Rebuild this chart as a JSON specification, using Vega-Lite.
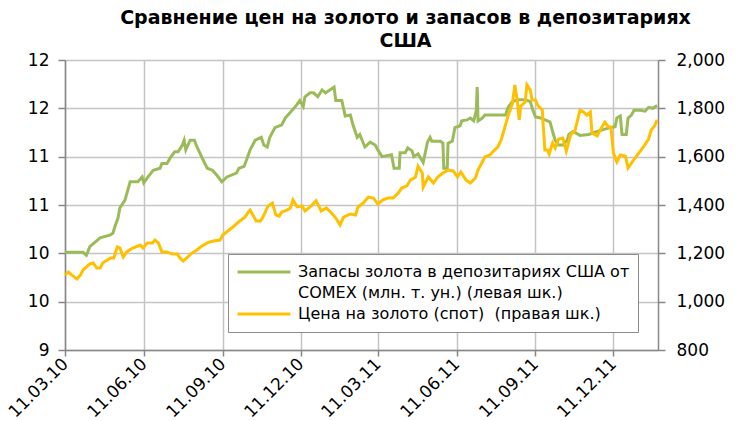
{
  "$schema": "https://vega.github.io/schema/vega-lite/v6.json",
  "width": 593,
  "height": 290,
  "autosize": {"type": "none"},
  "padding": {"left": 65, "top": 60, "right": 87, "bottom": 71},
  "background": "white",
  "title": {
    "text": ["Сравнение цен на золото и запасов в депозитариях", "США"],
    "font": "DejaVu Sans",
    "fontSize": 19,
    "fontWeight": "bold",
    "color": "#000000",
    "anchor": "middle",
    "dx": 44,
    "offset": 0,
    "lineHeight": 23
  },
  "config": {
    "view": {"stroke": null},
    "axis": {
      "labelFont": "DejaVu Sans",
      "labelColor": "#000000",
      "domainColor": "#868686",
      "tickColor": "#868686",
      "gridColor": "#c4c4c4",
      "domainWidth": 1.5,
      "tickWidth": 1.5,
      "gridWidth": 1.5
    }
  },
  "data": {
    "values": [
      {"date": "2010-03-11", "series": "reserves", "value": 10.01},
      {"date": "2010-04-01", "series": "reserves", "value": 10.01},
      {"date": "2010-04-05", "series": "reserves", "value": 9.98},
      {"date": "2010-04-09", "series": "reserves", "value": 10.07},
      {"date": "2010-04-21", "series": "reserves", "value": 10.16},
      {"date": "2010-05-03", "series": "reserves", "value": 10.19},
      {"date": "2010-05-06", "series": "reserves", "value": 10.21},
      {"date": "2010-05-08", "series": "reserves", "value": 10.27},
      {"date": "2010-05-12", "series": "reserves", "value": 10.37},
      {"date": "2010-05-14", "series": "reserves", "value": 10.47},
      {"date": "2010-05-20", "series": "reserves", "value": 10.55},
      {"date": "2010-05-26", "series": "reserves", "value": 10.74},
      {"date": "2010-06-04", "series": "reserves", "value": 10.74},
      {"date": "2010-06-09", "series": "reserves", "value": 10.79},
      {"date": "2010-06-11", "series": "reserves", "value": 10.73},
      {"date": "2010-06-15", "series": "reserves", "value": 10.78},
      {"date": "2010-06-22", "series": "reserves", "value": 10.86},
      {"date": "2010-06-30", "series": "reserves", "value": 10.88},
      {"date": "2010-07-02", "series": "reserves", "value": 10.93},
      {"date": "2010-07-08", "series": "reserves", "value": 10.93},
      {"date": "2010-07-12", "series": "reserves", "value": 10.99},
      {"date": "2010-07-17", "series": "reserves", "value": 11.05},
      {"date": "2010-07-21", "series": "reserves", "value": 11.05},
      {"date": "2010-07-26", "series": "reserves", "value": 11.12},
      {"date": "2010-07-28", "series": "reserves", "value": 11.17},
      {"date": "2010-07-30", "series": "reserves", "value": 11.07},
      {"date": "2010-08-04", "series": "reserves", "value": 11.17},
      {"date": "2010-08-09", "series": "reserves", "value": 11.17},
      {"date": "2010-08-12", "series": "reserves", "value": 11.10},
      {"date": "2010-08-19", "series": "reserves", "value": 10.97},
      {"date": "2010-08-24", "series": "reserves", "value": 10.88},
      {"date": "2010-08-30", "series": "reserves", "value": 10.86},
      {"date": "2010-09-04", "series": "reserves", "value": 10.81},
      {"date": "2010-09-10", "series": "reserves", "value": 10.74},
      {"date": "2010-09-16", "series": "reserves", "value": 10.79},
      {"date": "2010-09-27", "series": "reserves", "value": 10.83},
      {"date": "2010-09-30", "series": "reserves", "value": 10.88},
      {"date": "2010-10-06", "series": "reserves", "value": 10.90},
      {"date": "2010-10-09", "series": "reserves", "value": 10.97},
      {"date": "2010-10-13", "series": "reserves", "value": 11.07},
      {"date": "2010-10-19", "series": "reserves", "value": 11.17},
      {"date": "2010-10-26", "series": "reserves", "value": 11.20},
      {"date": "2010-10-29", "series": "reserves", "value": 11.12},
      {"date": "2010-11-02", "series": "reserves", "value": 11.10},
      {"date": "2010-11-05", "series": "reserves", "value": 11.20},
      {"date": "2010-11-11", "series": "reserves", "value": 11.30},
      {"date": "2010-11-19", "series": "reserves", "value": 11.33},
      {"date": "2010-11-23", "series": "reserves", "value": 11.40},
      {"date": "2010-11-29", "series": "reserves", "value": 11.46},
      {"date": "2010-12-06", "series": "reserves", "value": 11.53},
      {"date": "2010-12-10", "series": "reserves", "value": 11.58},
      {"date": "2010-12-14", "series": "reserves", "value": 11.52},
      {"date": "2010-12-16", "series": "reserves", "value": 11.62},
      {"date": "2010-12-22", "series": "reserves", "value": 11.66},
      {"date": "2010-12-26", "series": "reserves", "value": 11.66},
      {"date": "2010-12-31", "series": "reserves", "value": 11.62},
      {"date": "2011-01-05", "series": "reserves", "value": 11.69},
      {"date": "2011-01-09", "series": "reserves", "value": 11.66},
      {"date": "2011-01-14", "series": "reserves", "value": 11.69},
      {"date": "2011-01-19", "series": "reserves", "value": 11.72},
      {"date": "2011-01-21", "series": "reserves", "value": 11.58},
      {"date": "2011-01-28", "series": "reserves", "value": 11.58},
      {"date": "2011-02-01", "series": "reserves", "value": 11.42},
      {"date": "2011-02-07", "series": "reserves", "value": 11.43},
      {"date": "2011-02-10", "series": "reserves", "value": 11.33},
      {"date": "2011-02-15", "series": "reserves", "value": 11.20},
      {"date": "2011-02-18", "series": "reserves", "value": 11.23},
      {"date": "2011-02-24", "series": "reserves", "value": 11.10},
      {"date": "2011-03-02", "series": "reserves", "value": 11.15},
      {"date": "2011-03-08", "series": "reserves", "value": 11.12},
      {"date": "2011-03-11", "series": "reserves", "value": 11.07},
      {"date": "2011-03-16", "series": "reserves", "value": 11.00},
      {"date": "2011-03-27", "series": "reserves", "value": 11.02},
      {"date": "2011-03-30", "series": "reserves", "value": 10.88},
      {"date": "2011-04-05", "series": "reserves", "value": 10.88},
      {"date": "2011-04-06", "series": "reserves", "value": 11.04},
      {"date": "2011-04-12", "series": "reserves", "value": 11.04},
      {"date": "2011-04-15", "series": "reserves", "value": 11.09},
      {"date": "2011-04-20", "series": "reserves", "value": 11.06},
      {"date": "2011-04-22", "series": "reserves", "value": 11.00},
      {"date": "2011-04-27", "series": "reserves", "value": 11.03},
      {"date": "2011-05-03", "series": "reserves", "value": 10.94},
      {"date": "2011-05-08", "series": "reserves", "value": 11.15},
      {"date": "2011-05-11", "series": "reserves", "value": 11.20},
      {"date": "2011-05-13", "series": "reserves", "value": 11.16},
      {"date": "2011-05-23", "series": "reserves", "value": 11.16},
      {"date": "2011-05-26", "series": "reserves", "value": 11.14},
      {"date": "2011-05-27", "series": "reserves", "value": 10.88},
      {"date": "2011-05-31", "series": "reserves", "value": 10.88},
      {"date": "2011-06-01", "series": "reserves", "value": 11.14},
      {"date": "2011-06-06", "series": "reserves", "value": 11.16},
      {"date": "2011-06-09", "series": "reserves", "value": 11.30},
      {"date": "2011-06-15", "series": "reserves", "value": 11.32},
      {"date": "2011-06-17", "series": "reserves", "value": 11.37},
      {"date": "2011-06-23", "series": "reserves", "value": 11.38},
      {"date": "2011-06-27", "series": "reserves", "value": 11.40},
      {"date": "2011-07-01", "series": "reserves", "value": 11.37},
      {"date": "2011-07-04", "series": "reserves", "value": 11.48},
      {"date": "2011-07-05", "series": "reserves", "value": 11.72},
      {"date": "2011-07-06", "series": "reserves", "value": 11.37},
      {"date": "2011-07-11", "series": "reserves", "value": 11.40},
      {"date": "2011-07-14", "series": "reserves", "value": 11.43},
      {"date": "2011-08-07", "series": "reserves", "value": 11.43},
      {"date": "2011-08-10", "series": "reserves", "value": 11.51},
      {"date": "2011-08-15", "series": "reserves", "value": 11.57},
      {"date": "2011-08-22", "series": "reserves", "value": 11.59},
      {"date": "2011-08-30", "series": "reserves", "value": 11.59},
      {"date": "2011-09-05", "series": "reserves", "value": 11.57},
      {"date": "2011-09-08", "series": "reserves", "value": 11.48},
      {"date": "2011-09-11", "series": "reserves", "value": 11.41},
      {"date": "2011-09-17", "series": "reserves", "value": 11.40},
      {"date": "2011-09-22", "series": "reserves", "value": 11.38},
      {"date": "2011-09-28", "series": "reserves", "value": 11.36},
      {"date": "2011-10-01", "series": "reserves", "value": 11.26},
      {"date": "2011-10-04", "series": "reserves", "value": 11.17},
      {"date": "2011-10-08", "series": "reserves", "value": 11.12},
      {"date": "2011-10-13", "series": "reserves", "value": 11.12},
      {"date": "2011-10-18", "series": "reserves", "value": 11.17},
      {"date": "2011-10-20", "series": "reserves", "value": 11.23},
      {"date": "2011-10-25", "series": "reserves", "value": 11.26},
      {"date": "2011-11-02", "series": "reserves", "value": 11.22},
      {"date": "2011-11-12", "series": "reserves", "value": 11.23},
      {"date": "2011-11-22", "series": "reserves", "value": 11.26},
      {"date": "2011-11-29", "series": "reserves", "value": 11.28},
      {"date": "2011-12-07", "series": "reserves", "value": 11.30},
      {"date": "2011-12-13", "series": "reserves", "value": 11.31},
      {"date": "2011-12-15", "series": "reserves", "value": 11.40},
      {"date": "2011-12-19", "series": "reserves", "value": 11.42},
      {"date": "2011-12-21", "series": "reserves", "value": 11.23},
      {"date": "2011-12-26", "series": "reserves", "value": 11.23},
      {"date": "2011-12-28", "series": "reserves", "value": 11.40},
      {"date": "2012-01-01", "series": "reserves", "value": 11.43},
      {"date": "2012-01-04", "series": "reserves", "value": 11.48},
      {"date": "2012-01-11", "series": "reserves", "value": 11.48},
      {"date": "2012-01-17", "series": "reserves", "value": 11.47},
      {"date": "2012-01-21", "series": "reserves", "value": 11.51},
      {"date": "2012-01-26", "series": "reserves", "value": 11.50},
      {"date": "2012-01-31", "series": "reserves", "value": 11.53},

      {"date": "2010-03-11", "series": "price", "value": 1110},
      {"date": "2010-03-15", "series": "price", "value": 1123},
      {"date": "2010-03-19", "series": "price", "value": 1110},
      {"date": "2010-03-25", "series": "price", "value": 1094},
      {"date": "2010-03-29", "series": "price", "value": 1110},
      {"date": "2010-04-01", "series": "price", "value": 1131},
      {"date": "2010-04-09", "series": "price", "value": 1156},
      {"date": "2010-04-13", "series": "price", "value": 1160},
      {"date": "2010-04-17", "series": "price", "value": 1139},
      {"date": "2010-04-21", "series": "price", "value": 1139},
      {"date": "2010-04-24", "series": "price", "value": 1160},
      {"date": "2010-05-03", "series": "price", "value": 1181},
      {"date": "2010-05-07", "series": "price", "value": 1181},
      {"date": "2010-05-11", "series": "price", "value": 1226},
      {"date": "2010-05-14", "series": "price", "value": 1222},
      {"date": "2010-05-18", "series": "price", "value": 1185},
      {"date": "2010-05-22", "series": "price", "value": 1206},
      {"date": "2010-05-29", "series": "price", "value": 1222},
      {"date": "2010-06-07", "series": "price", "value": 1234},
      {"date": "2010-06-10", "series": "price", "value": 1222},
      {"date": "2010-06-15", "series": "price", "value": 1243},
      {"date": "2010-06-21", "series": "price", "value": 1243},
      {"date": "2010-06-24", "series": "price", "value": 1255},
      {"date": "2010-06-28", "series": "price", "value": 1243},
      {"date": "2010-07-02", "series": "price", "value": 1206},
      {"date": "2010-07-08", "series": "price", "value": 1206},
      {"date": "2010-07-14", "series": "price", "value": 1197},
      {"date": "2010-07-20", "series": "price", "value": 1197},
      {"date": "2010-07-23", "series": "price", "value": 1181},
      {"date": "2010-07-27", "series": "price", "value": 1168},
      {"date": "2010-07-31", "series": "price", "value": 1181},
      {"date": "2010-08-06", "series": "price", "value": 1201},
      {"date": "2010-08-12", "series": "price", "value": 1214},
      {"date": "2010-08-16", "series": "price", "value": 1226},
      {"date": "2010-08-24", "series": "price", "value": 1243},
      {"date": "2010-08-31", "series": "price", "value": 1251},
      {"date": "2010-09-08", "series": "price", "value": 1255},
      {"date": "2010-09-11", "series": "price", "value": 1276},
      {"date": "2010-09-23", "series": "price", "value": 1309},
      {"date": "2010-10-01", "series": "price", "value": 1334},
      {"date": "2010-10-07", "series": "price", "value": 1350},
      {"date": "2010-10-11", "series": "price", "value": 1371},
      {"date": "2010-10-13", "series": "price", "value": 1379},
      {"date": "2010-10-17", "series": "price", "value": 1354},
      {"date": "2010-10-20", "series": "price", "value": 1334},
      {"date": "2010-10-25", "series": "price", "value": 1334},
      {"date": "2010-10-28", "series": "price", "value": 1350},
      {"date": "2010-11-03", "series": "price", "value": 1396},
      {"date": "2010-11-08", "series": "price", "value": 1408},
      {"date": "2010-11-12", "series": "price", "value": 1359},
      {"date": "2010-11-16", "series": "price", "value": 1354},
      {"date": "2010-11-19", "series": "price", "value": 1371},
      {"date": "2010-11-25", "series": "price", "value": 1379},
      {"date": "2010-11-29", "series": "price", "value": 1388},
      {"date": "2010-12-02", "series": "price", "value": 1421},
      {"date": "2010-12-07", "series": "price", "value": 1392},
      {"date": "2010-12-13", "series": "price", "value": 1396},
      {"date": "2010-12-16", "series": "price", "value": 1375},
      {"date": "2010-12-22", "series": "price", "value": 1392},
      {"date": "2010-12-29", "series": "price", "value": 1417},
      {"date": "2011-01-04", "series": "price", "value": 1375},
      {"date": "2011-01-10", "series": "price", "value": 1388},
      {"date": "2011-01-16", "series": "price", "value": 1367},
      {"date": "2011-01-21", "series": "price", "value": 1346},
      {"date": "2011-01-26", "series": "price", "value": 1317},
      {"date": "2011-01-30", "series": "price", "value": 1350},
      {"date": "2011-02-07", "series": "price", "value": 1363},
      {"date": "2011-02-13", "series": "price", "value": 1359},
      {"date": "2011-02-16", "series": "price", "value": 1392},
      {"date": "2011-02-22", "series": "price", "value": 1408},
      {"date": "2011-02-28", "series": "price", "value": 1433},
      {"date": "2011-03-06", "series": "price", "value": 1429},
      {"date": "2011-03-11", "series": "price", "value": 1404},
      {"date": "2011-03-17", "series": "price", "value": 1421},
      {"date": "2011-03-23", "series": "price", "value": 1429},
      {"date": "2011-03-29", "series": "price", "value": 1429},
      {"date": "2011-04-04", "series": "price", "value": 1450},
      {"date": "2011-04-08", "series": "price", "value": 1470},
      {"date": "2011-04-14", "series": "price", "value": 1479},
      {"date": "2011-04-18", "series": "price", "value": 1503},
      {"date": "2011-04-24", "series": "price", "value": 1516},
      {"date": "2011-04-27", "series": "price", "value": 1561},
      {"date": "2011-05-02", "series": "price", "value": 1532},
      {"date": "2011-05-03", "series": "price", "value": 1474},
      {"date": "2011-05-09", "series": "price", "value": 1516},
      {"date": "2011-05-15", "series": "price", "value": 1491},
      {"date": "2011-05-20", "series": "price", "value": 1516},
      {"date": "2011-05-26", "series": "price", "value": 1532},
      {"date": "2011-06-01", "series": "price", "value": 1545},
      {"date": "2011-06-07", "series": "price", "value": 1541},
      {"date": "2011-06-12", "series": "price", "value": 1516},
      {"date": "2011-06-16", "series": "price", "value": 1537},
      {"date": "2011-06-22", "series": "price", "value": 1503},
      {"date": "2011-06-27", "series": "price", "value": 1491},
      {"date": "2011-07-03", "series": "price", "value": 1512},
      {"date": "2011-07-06", "series": "price", "value": 1545},
      {"date": "2011-07-11", "series": "price", "value": 1578},
      {"date": "2011-07-14", "series": "price", "value": 1599},
      {"date": "2011-07-20", "series": "price", "value": 1607},
      {"date": "2011-07-24", "series": "price", "value": 1623},
      {"date": "2011-07-29", "series": "price", "value": 1640},
      {"date": "2011-08-02", "series": "price", "value": 1669},
      {"date": "2011-08-07", "series": "price", "value": 1731},
      {"date": "2011-08-10", "series": "price", "value": 1768},
      {"date": "2011-08-15", "series": "price", "value": 1818},
      {"date": "2011-08-18", "series": "price", "value": 1897},
      {"date": "2011-08-21", "series": "price", "value": 1826},
      {"date": "2011-08-23", "series": "price", "value": 1752},
      {"date": "2011-08-25", "series": "price", "value": 1810},
      {"date": "2011-08-30", "series": "price", "value": 1826},
      {"date": "2011-09-01", "series": "price", "value": 1897},
      {"date": "2011-09-05", "series": "price", "value": 1876},
      {"date": "2011-09-07", "series": "price", "value": 1834},
      {"date": "2011-09-11", "series": "price", "value": 1834},
      {"date": "2011-09-14", "series": "price", "value": 1810},
      {"date": "2011-09-19", "series": "price", "value": 1793},
      {"date": "2011-09-20", "series": "price", "value": 1731},
      {"date": "2011-09-22", "series": "price", "value": 1628},
      {"date": "2011-09-25", "series": "price", "value": 1628},
      {"date": "2011-09-27", "series": "price", "value": 1611},
      {"date": "2011-10-01", "series": "price", "value": 1657},
      {"date": "2011-10-04", "series": "price", "value": 1636},
      {"date": "2011-10-08", "series": "price", "value": 1673},
      {"date": "2011-10-13", "series": "price", "value": 1677},
      {"date": "2011-10-17", "series": "price", "value": 1623},
      {"date": "2011-10-22", "series": "price", "value": 1690},
      {"date": "2011-10-27", "series": "price", "value": 1706},
      {"date": "2011-11-02", "series": "price", "value": 1793},
      {"date": "2011-11-06", "series": "price", "value": 1785},
      {"date": "2011-11-10", "series": "price", "value": 1772},
      {"date": "2011-11-14", "series": "price", "value": 1785},
      {"date": "2011-11-16", "series": "price", "value": 1698},
      {"date": "2011-11-22", "series": "price", "value": 1686},
      {"date": "2011-11-26", "series": "price", "value": 1714},
      {"date": "2011-12-01", "series": "price", "value": 1743},
      {"date": "2011-12-05", "series": "price", "value": 1723},
      {"date": "2011-12-08", "series": "price", "value": 1723},
      {"date": "2011-12-11", "series": "price", "value": 1615},
      {"date": "2011-12-15", "series": "price", "value": 1578},
      {"date": "2011-12-19", "series": "price", "value": 1607},
      {"date": "2011-12-25", "series": "price", "value": 1603},
      {"date": "2011-12-28", "series": "price", "value": 1553},
      {"date": "2012-01-02", "series": "price", "value": 1578},
      {"date": "2012-01-08", "series": "price", "value": 1607},
      {"date": "2012-01-15", "series": "price", "value": 1640},
      {"date": "2012-01-21", "series": "price", "value": 1673},
      {"date": "2012-01-24", "series": "price", "value": 1710},
      {"date": "2012-01-28", "series": "price", "value": 1727},
      {"date": "2012-01-31", "series": "price", "value": 1752}
    ]
  },
  "encoding": {
    "x": {
      "field": "date",
      "type": "temporal",
      "scale": {
        "type": "utc",
        "domain": [
          {"year": 2010, "month": 3, "date": 11, "utc": true},
          {"year": 2012, "month": 2, "date": 1, "utc": true}
        ]
      },
      "axis": {
        "title": null,
        "values": [
          {"year": 2010, "month": 3, "date": 11, "utc": true},
          {"year": 2010, "month": 6, "date": 11, "utc": true},
          {"year": 2010, "month": 9, "date": 11, "utc": true},
          {"year": 2010, "month": 12, "date": 11, "utc": true},
          {"year": 2011, "month": 3, "date": 11, "utc": true},
          {"year": 2011, "month": 6, "date": 11, "utc": true},
          {"year": 2011, "month": 9, "date": 11, "utc": true},
          {"year": 2011, "month": 12, "date": 11, "utc": true}
        ],
        "labelExpr": "utcFormat(datum.value, '%d.%m.%y')",
        "labelAngle": -45,
        "labelAlign": "right",
        "labelBaseline": "middle",
        "labelFontSize": 17,
        "labelPadding": 5,
        "tickSize": 6,
        "grid": true,
        "labelFlush": false,
        "labelOverlap": false
      }
    },
    "color": {
      "field": "series",
      "type": "nominal",
      "scale": {"domain": ["reserves", "reserves2", "price"], "range": ["#9BBB59", "transparent", "#FFC000"]},
      "legend": {
        "orient": "none",
        "legendX": 163,
        "legendY": 194,
        "title": null,
        "strokeColor": "#8c8c8c",
        "fillColor": "#ffffff",
        "padding": 8,
        "symbolType": "stroke",
        "symbolSize": 2800,
        "symbolStrokeWidth": 3,
        "clipHeight": 20,
        "labelFont": "DejaVu Sans",
        "labelFontSize": 16,
        "labelColor": "#000000",
        "labelLimit": 420,
        "labelOffset": 6,
        "rowPadding": 1,
        "labelExpr": "datum.label == 'reserves' ? 'Запасы золота в депозитариях США от' : datum.label == 'reserves2' ? 'COMEX (млн. т. ун.) (левая шк.)' : 'Цена на золото (спот)\u00a0 (правая шк.)'"
      }
    }
  },
  "layer": [
    {
      "transform": [{"filter": "datum.series == 'reserves'"}],
      "mark": {"type": "line", "strokeWidth": 3, "interpolate": "linear"},
      "encoding": {
        "y": {
          "field": "value",
          "type": "quantitative",
          "scale": {"domain": [9, 12], "nice": false, "zero": false},
          "axis": {
            "title": null,
            "orient": "left",
            "values": [9, 9.5, 10, 10.5, 11, 11.5, 12],
            "format": ".1f",
            "labelExpr": "format(datum.value, '.0f')",
            "labelFontSize": 17,
            "labelPadding": 9,
            "tickSize": 7,
            "grid": true
          }
        }
      }
    },
    {
      "transform": [{"filter": "datum.series == 'price'"}],
      "mark": {"type": "line", "strokeWidth": 3, "interpolate": "linear"},
      "encoding": {
        "y": {
          "field": "value",
          "type": "quantitative",
          "scale": {"domain": [800, 2000], "nice": false, "zero": false},
          "axis": {
            "title": null,
            "orient": "right",
            "values": [800, 1000, 1200, 1400, 1600, 1800, 2000],
            "format": ",.0f",
            "labelFontSize": 17,
            "labelPadding": 11,
            "tickSize": 7,
            "grid": false
          }
        }
      }
    }
  ],
  "resolve": {"scale": {"y": "independent"}}
}
